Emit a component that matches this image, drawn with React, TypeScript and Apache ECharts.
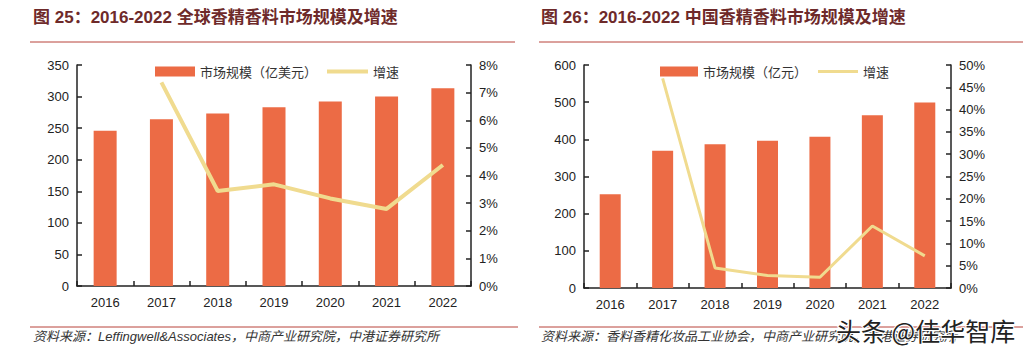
import React, { useEffect, useRef } from "react";
import * as echarts from "echarts";

const years = ["2016", "2017", "2018", "2019", "2020", "2021", "2022"];
const globalSize = [246, 264, 273, 283, 292, 300, 313];
const globalGrowth = [null, 7.37, 3.44, 3.68, 3.17, 2.79, 4.38];
const chinaSize = [252, 369, 387, 396, 407, 465, 499];
const chinaGrowth = [null, 47.0, 4.5, 2.8, 2.4, 13.9, 7.2];

const title1 = "图 25：2016-2022 全球香精香料市场规模及增速";
const title2 = "图 26：2016-2022 中国香精香料市场规模及增速";
const source1 = "资料来源：Leffingwell&Associates，中商产业研究院，中港证券研究所";
const source2 = "资料来源：香料香精化妆品工业协会，中商产业研究院，中港证券研究所";
const watermark = "头条 @佳华智库";

const BAR = "#EC6B45";
const LINE = "#F0DB8F";
const RED = "#B8423A";
const TITLE = "#6E2A2A";

export default function App() {
  const ref = useRef<HTMLDivElement>(null);
  useEffect(() => {
    const chart = echarts.init(ref.current!, null, { renderer: "svg" });
    const axisLabel = { color: "#222", fontSize: 13, fontFamily: "Liberation Sans, Arial, sans-serif" };
    const axisLine = { show: true, lineStyle: { color: "#222", width: 1.5 } };
    const axisTick = { show: true, inside: true, length: 5, lineStyle: { color: "#222", width: 1.5 } };
    const xAxis = (gi: number) => ({
      type: "category",
      data: years,
      gridIndex: gi,
      axisLine,
      axisTick: { ...axisTick, alignWithLabel: false },
      axisLabel: { ...axisLabel, margin: 10 },
    });
    const yAxis = (gi: number, max: number, interval: number, right: boolean, pct: boolean) => ({
      type: "value",
      gridIndex: gi,
      min: 0,
      max,
      interval,
      position: right ? "right" : "left",
      axisLine,
      axisTick,
      splitLine: { show: false },
      axisLabel: { ...axisLabel, margin: 8, formatter: pct ? "{value}%" : "{value}" },
    });
    const legendText = { color: "#333", fontSize: 13, fontFamily: "Noto Sans CJK SC" };
    chart.setOption({
      animation: false,
      backgroundColor: "#fff",
      grid: [
        { left: 77, right: 565, top: 65, bottom: 68 },
        { left: 584, right: 85, top: 65, bottom: 66 },
      ],
      legend: [
        { left: 150, top: 60, itemWidth: 40, itemHeight: 10, itemGap: 8, icon: "rect", data: ["市场规模（亿美元）"], textStyle: legendText },
        { left: 322, top: 60, itemWidth: 41, itemHeight: 4, itemGap: 8, icon: "rect", data: ["增速"], textStyle: legendText },
        { left: 655, top: 60, itemWidth: 38, itemHeight: 10, itemGap: 8, icon: "rect", data: ["市场规模（亿元）"], textStyle: legendText },
        { left: 813, top: 60, itemWidth: 40, itemHeight: 3, itemGap: 8, icon: "rect", data: ["增速 "], textStyle: legendText },
      ],
      xAxis: [xAxis(0), xAxis(1)],
      yAxis: [
        yAxis(0, 350, 50, false, false),
        yAxis(0, 8, 1, true, true),
        yAxis(1, 600, 100, false, false),
        yAxis(1, 50, 5, true, true),
      ],
      series: [
        { name: "市场规模（亿美元）", type: "bar", xAxisIndex: 0, yAxisIndex: 0, data: globalSize, barWidth: 23, itemStyle: { color: BAR } },
        { name: "增速", type: "line", xAxisIndex: 0, yAxisIndex: 1, data: globalGrowth, symbol: "none", lineStyle: { color: LINE, width: 4 }, itemStyle: { color: LINE } },
        { name: "市场规模（亿元）", type: "bar", xAxisIndex: 1, yAxisIndex: 2, data: chinaSize, barWidth: 21, itemStyle: { color: BAR } },
        { name: "增速 ", type: "line", xAxisIndex: 1, yAxisIndex: 3, data: chinaGrowth, symbol: "none", lineStyle: { color: LINE, width: 3 }, itemStyle: { color: LINE } },
      ],
      graphic: [
        { type: "text", left: 33, top: 9, style: { text: title1, fill: TITLE, fontSize: 17, fontWeight: "bold", fontFamily: "Liberation Sans, Noto Sans CJK SC" } },
        { type: "text", left: 541, top: 9, style: { text: title2, fill: TITLE, fontSize: 17, fontWeight: "bold", fontFamily: "Liberation Sans, Noto Sans CJK SC" } },
        { type: "line", shape: { x1: 30, y1: 42, x2: 515, y2: 42 }, style: { stroke: RED, lineWidth: 1 } },
        { type: "line", shape: { x1: 539, y1: 42, x2: 1023, y2: 42 }, style: { stroke: RED, lineWidth: 1 } },
        { type: "line", shape: { x1: 30, y1: 327, x2: 518, y2: 327 }, style: { stroke: RED, lineWidth: 1 } },
        { type: "line", shape: { x1: 539, y1: 327, x2: 1023, y2: 327 }, style: { stroke: RED, lineWidth: 1 } },
        { type: "text", left: 33, top: 330, style: { text: source1, fill: "#333", fontSize: 13, fontStyle: "italic", fontFamily: "Liberation Sans, Noto Sans CJK SC" } },
        { type: "text", left: 541, top: 330, style: { text: source2, fill: "#333", fontSize: 13, fontStyle: "italic", fontFamily: "Liberation Sans, Noto Sans CJK SC" } },
        { type: "text", left: 835, top: 316, style: { text: watermark, fill: "#222", stroke: "#fff", lineWidth: 2, fontSize: 25, fontFamily: "Noto Sans CJK SC" } },
      ],
    });
    return () => chart.dispose();
  }, []);
  return <div ref={ref} style={{ position: "fixed", left: 0, top: 0, width: 1036, height: 354 }} />;
}
